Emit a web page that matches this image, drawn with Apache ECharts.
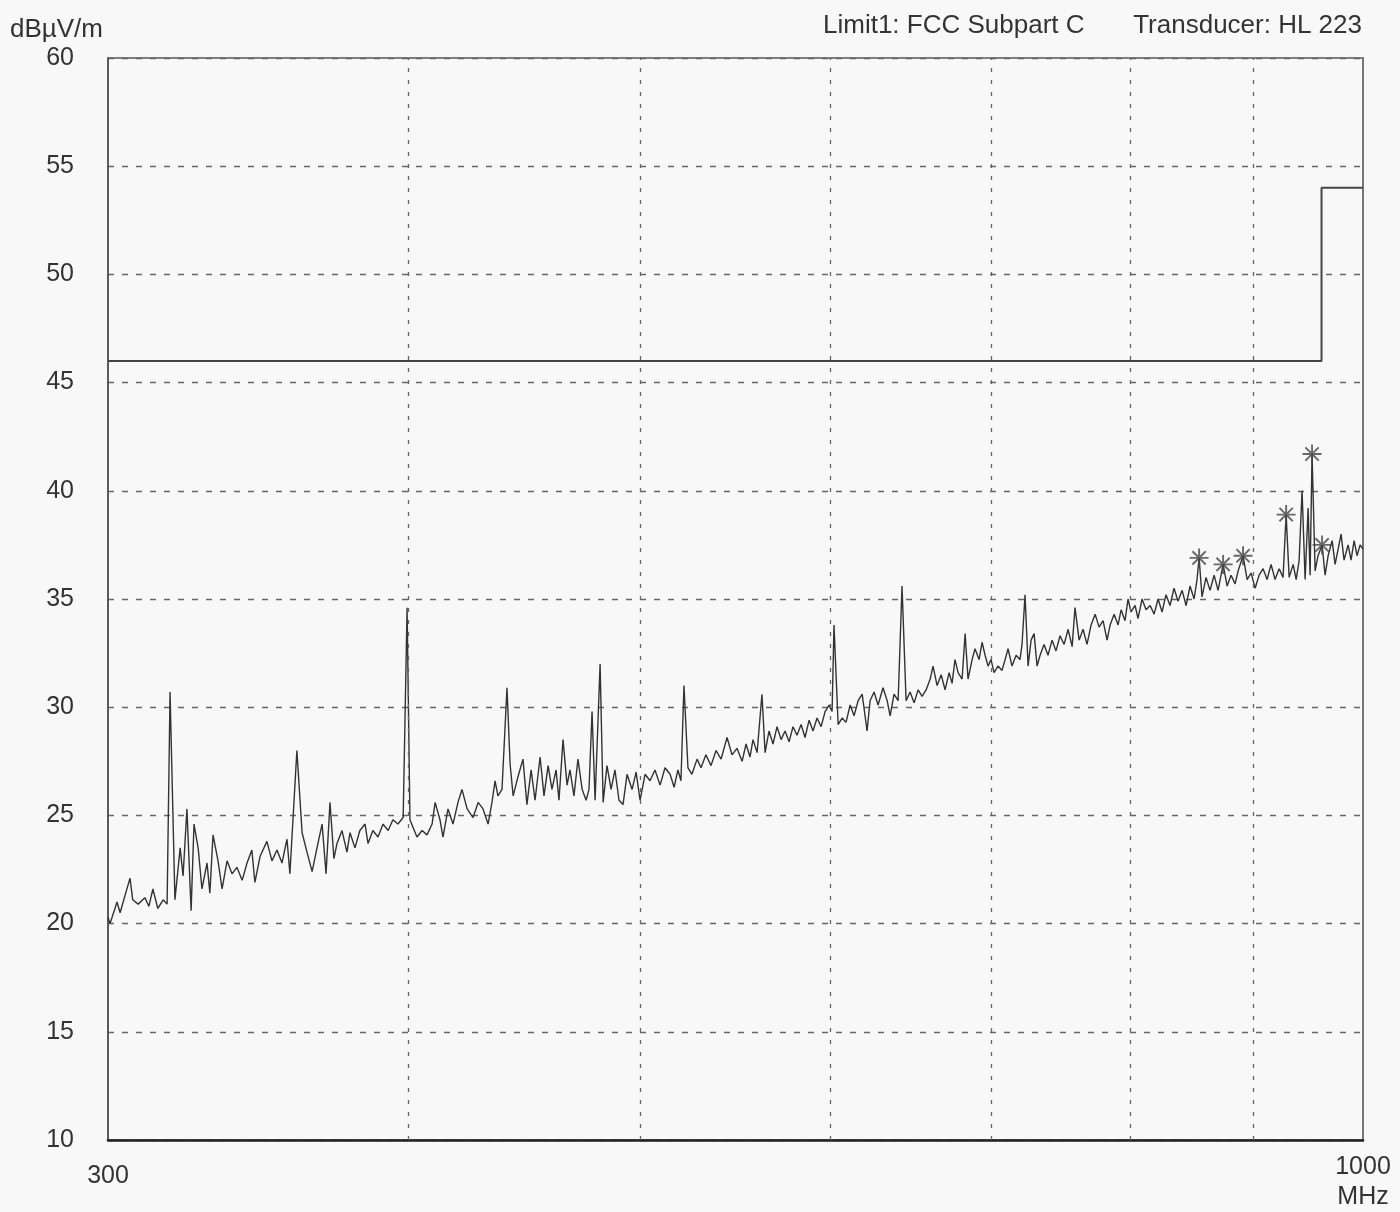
<!DOCTYPE html>
<html><head><meta charset="utf-8">
<script src="https://cdn.jsdelivr.net/npm/echarts@6/dist/echarts.min.js"></script>
<style>html,body{margin:0;padding:0;background:#f8f8f8}#c{width:1400px;height:1212px}</style>
</head><body><div id="c"></div>
<script>
// ---- data ----
const xGridFreqs = [400, 500, 600, 700, 800, 900];
const xLabelFreqs = [300, 1000];
const yMin = 10, yMax = 60, yStep = 5;
const limitLine = [[300, 46], [961, 46], [961, 54], [1000, 54]];
const peakMarkers = [[854.5, 36.9], [874.4, 36.6], [891.3, 37.0], [928.9, 38.9], [952.3, 41.7], [961.5, 37.5]];
const traceLow = [
[300.0,20.3],[300.6,20.0],[302.6,21.0],[303.5,20.5],[306.4,22.1],[307.2,21.1],[308.8,20.9],[310.8,21.2],[312.0,20.8],[313.2,21.6],[314.7,20.7],[316.3,21.1],[317.5,20.9],[318.4,30.7],[319.9,21.1],[321.5,23.5],[322.4,22.2],[323.6,25.3],[324.9,20.6],[325.8,24.6],[327.1,23.5],[328.3,21.6],[329.9,22.8],[330.8,21.4],[331.8,24.1],[333.4,22.9],[334.7,21.6],[336.3,22.9],[337.9,22.3],[339.5,22.6],[341.2,22.0],[342.8,22.8],[344.4,23.4],[345.4,21.9],[347.1,23.1],[349.4,23.8],[351.1,22.9],[352.8,23.4],[354.5,22.8],[356.2,23.9],[357.2,22.3],[359.6,28.0],[361.4,24.2],[363.1,23.3],[364.9,22.4],[366.6,23.5],
[368.4,24.6],[369.8,22.3],[371.2,25.6],[372.6,23.0],[373.7,23.7],[375.5,24.3],[377.3,23.3],[378.4,24.2],[380.2,23.5],[382.0,24.3],[383.9,24.6],[385.0,23.7],[386.8,24.3],[388.7,24.0],[390.6,24.6],[392.5,24.3],[394.3,24.8],[396.2,24.6],[398.2,24.9],[399.7,34.6],[400.8,24.8],[403.5,24.0],[405.5,24.3],[407.4,24.1],[409.4,24.6],[410.6,25.6],[412.5,24.8],[413.7,24.0],[415.7,25.3],[417.7,24.6],[419.7,25.6],[421.3,26.2],[423.4,25.3],[425.8,24.9],[427.9,25.6],[429.9,25.3],[432.0,24.6],[433.6,25.6],[434.9,26.6],[436.1,25.9],[437.8,26.2],[439.9,30.9],[441.2,27.4],[442.5,25.9],[444.6,26.8],[446.7,27.6]
];
const traceMid = [
[448.4,25.5],[450.2,27.1],[451.9,25.7],[454.1,27.7],[455.8,25.9],[457.6,27.3],[459.3,26.2],[461.1,27.1],[462.4,25.7],[464.2,28.5],[466.0,26.4],[467.3,27.1],[469.1,25.9],[470.9,27.6],[472.8,26.2],[474.6,25.7],[475.9,26.2],[477.3,29.8],[478.7,25.7],[481.0,32.0],[482.4,25.6],[484.2,27.3],[486.1,26.2],[487.9,27.1],[489.8,25.7],[491.7,25.5],[493.6,26.9],[496.0,26.2],[497.9,27.0],[499.8,25.7],[502.2,26.9],[504.6,26.6],[507.0,27.1],[509.5,26.4],[511.9,27.2],[514.4,26.9],[516.4,26.3],[518.3,27.1],[519.8,26.6],[521.3,31.0],[523.3,27.2],[525.3,26.9],[527.9,27.6],[529.9,27.2],[532.4,27.8],[535.0,27.3],[537.6,28.0],[540.2,27.6],[543.3,28.6],[545.9,27.8],[548.5,28.1],
[551.2,27.5],[553.3,28.3],[555.4,27.7],[557.0,28.5],[559.2,27.9],[561.8,30.6],[563.5,27.9],[565.6,28.9],[567.8,28.3],[570.0,29.1],[572.2,28.5],[574.4,28.9],[576.6,28.4],[578.8,29.1],[581.0,28.7],[583.3,29.2],[585.5,28.6],[587.8,29.4],[590.0,28.9],[592.3,29.5],[594.6,29.1],[596.9,29.8],[599.2,30.1],[600.9,29.8],[602.0,33.8],[604.4,29.2],[606.7,29.5],[609.0,29.3],[611.4,30.1],[613.7,29.6],[616.1,30.3],[618.5,30.6],[621.4,28.9],[623.2,30.3],[625.6,30.7],[628.0,30.1],[631.0,30.9],[633.5,30.3],[635.3,29.6],[637.7,30.6],[640.2,30.3],[642.6,35.6],[645.1,30.3],[647.6,30.7],[650.1,30.2],[652.6,30.8],[655.1,30.5],[657.6,30.8],[660.2,31.3],[662.0,31.9],[664.6,31.0],[667.2,31.5]
];
const traceHigh = [
[669.7,30.8],[672.3,31.6],[674.2,31.1],[676.1,32.2],[678.1,31.6],[680.7,31.3],[682.7,33.4],[684.6,31.3],[687.3,32.2],[689.2,32.7],[691.9,32.2],[693.9,33.0],[695.9,32.4],[697.9,31.9],[699.9,32.2],[701.9,31.6],[704.6,31.9],[707.3,31.7],[709.4,32.2],[711.4,32.7],[714.1,31.9],[716.9,32.4],[719.6,32.2],[721.0,32.9],[723.1,35.2],[725.2,31.9],[727.3,33.1],[729.4,33.4],[731.5,31.9],[733.6,32.4],[736.4,32.9],[739.2,32.4],[742.1,33.1],[744.9,32.6],[747.8,33.3],[750.7,32.9],[753.6,33.6],[756.5,32.8],[758.6,34.6],[761.6,33.1],[764.5,33.6],[767.4,32.9],[770.4,33.8],[773.4,34.3],[776.3,33.7],[779.3,34.0],[782.3,33.1],[784.6,33.8],[787.6,34.3],[790.6,33.8],[792.9,34.5],[795.9,34.0],[798.2,35.0],[800.5,34.4],[803.6,34.7],[805.9,34.1],[809.0,35.0],[812.1,34.5],[815.3,34.7],[818.4,34.3],[821.5,35.0],
[824.7,34.4],[827.8,35.2],[831.0,34.7],[834.2,35.5],[837.4,34.9],[840.7,35.4],[843.9,34.7],[847.1,35.6],[850.4,35.0],[852.8,35.9],[854.5,36.9],[856.9,35.1],[860.2,36.0],[863.5,35.4],[866.9,36.1],[870.2,35.4],[874.4,36.6],[877.8,35.6],[881.1,36.1],[884.5,35.7],[887.1,36.3],[891.3,37.0],[894.8,35.9],[898.2,36.2],[901.7,35.5],[905.1,36.1],[908.6,36.4],[912.1,35.9],[915.6,36.6],[919.1,35.9],[922.7,36.4],[926.2,36.0],[928.9,38.9],[931.6,36.0],[935.2,36.6],[937.9,35.9],[940.6,36.8],[943.2,40.0],[946.0,35.9],[948.7,39.2],[950.5,36.1],[952.3,41.7],[955.1,36.3],[957.8,37.0],[961.5,37.5],[964.3,36.1],[967.1,37.0],[970.8,37.7],[973.6,36.6],[976.4,37.3],[979.2,38.0],[982.0,36.8],[985.8,37.5],[988.6,36.8],[991.5,37.7],[994.3,37.0],[997.2,37.5],[1000,37.3]
];
const trace = traceLow.concat(traceMid, traceHigh);

// ---- chart ----
const FONT = '"Liberation Sans", Arial, Helvetica, sans-serif';
const ASTERISK = 'path://M-1,-10 L1,-10 L1,10 L-1,10 Z M-10,-1 L10,-1 L10,1 L-10,1 Z M-6.3,-7.7 L7.7,6.3 L6.3,7.7 L-7.7,-6.3 Z M6.3,-7.7 L7.7,-6.3 L-6.3,7.7 L-7.7,6.3 Z';
const chart = echarts.init(document.getElementById('c'), null, {renderer: 'canvas'});
chart.setOption({
  animation: false,
  backgroundColor: '#f8f8f8',
  grid: {left: 108, right: 37, top: 58, bottom: 72, show: true, borderColor: '#555', borderWidth: 1.6, backgroundColor: 'transparent'},
  xAxis: {
    type: 'log', logBase: 10, min: 300, max: 1000,
    axisLine: {show: true, lineStyle: {color: '#222', width: 2.5}},
    axisTick: {show: false},
    splitLine: {show: false},
    minorSplitLine: {show: false},
    axisLabel: {
      show: true, showMinLabel: true, showMaxLabel: true,
      margin: 12, fontSize: 25, color: '#333', fontFamily: FONT, lineHeight: 30,
      formatter: function (v) {
        if (Math.abs(v - xLabelFreqs[0]) < 1) return '{lo|' + xLabelFreqs[0] + '}';
        if (Math.abs(v - xLabelFreqs[1]) < 1) return xLabelFreqs[1] + '\nMHz';
        return '';
      },
      rich: {lo: {fontSize: 25, color: '#333', fontFamily: FONT, padding: [18, 0, 0, 0]}}
    }
  },
  yAxis: {
    type: 'value', min: yMin, max: yMax, interval: yStep,
    axisLine: {show: true, lineStyle: {color: '#555', width: 1.6}},
    axisTick: {show: false},
    splitLine: {show: true, lineStyle: {type: [6, 8], color: '#666', width: 1.3}},
    axisLabel: {margin: 34, fontSize: 25, color: '#333', fontFamily: FONT, padding: [6, 0, 0, 0]}
  },
  graphic: [
    {type: 'text', left: 10, top: 17, style: {text: 'dBµV/m', font: '26px ' + FONT, fill: '#333'}},
    {type: 'text', left: 823, top: 13, style: {text: 'Limit1: FCC Subpart C', font: '26px ' + FONT, fill: '#333'}},
    {type: 'text', right: 38, top: 13, style: {text: 'Transducer: HL 223', font: '26px ' + FONT, fill: '#333'}}
  ],
  series: [
    {
      name: 'limit', type: 'line', data: limitLine, symbol: 'none',
      lineStyle: {color: '#444', width: 2}, z: 3,
      markLine: {
        silent: true, symbol: ['none', 'none'], label: {show: false},
        lineStyle: {type: [4, 8], color: '#666', width: 1.3},
        data: xGridFreqs.map(function (f) { return {xAxis: f}; })
      }
    },
    {
      name: 'trace', type: 'line', data: trace, symbol: 'none',
      lineStyle: {color: '#333', width: 1.4}, z: 4
    },
    {
      name: 'peaks', type: 'scatter', data: peakMarkers, symbol: ASTERISK, symbolSize: 19,
      itemStyle: {color: '#444'}, z: 5
    }
  ]
});
</script></body></html>
